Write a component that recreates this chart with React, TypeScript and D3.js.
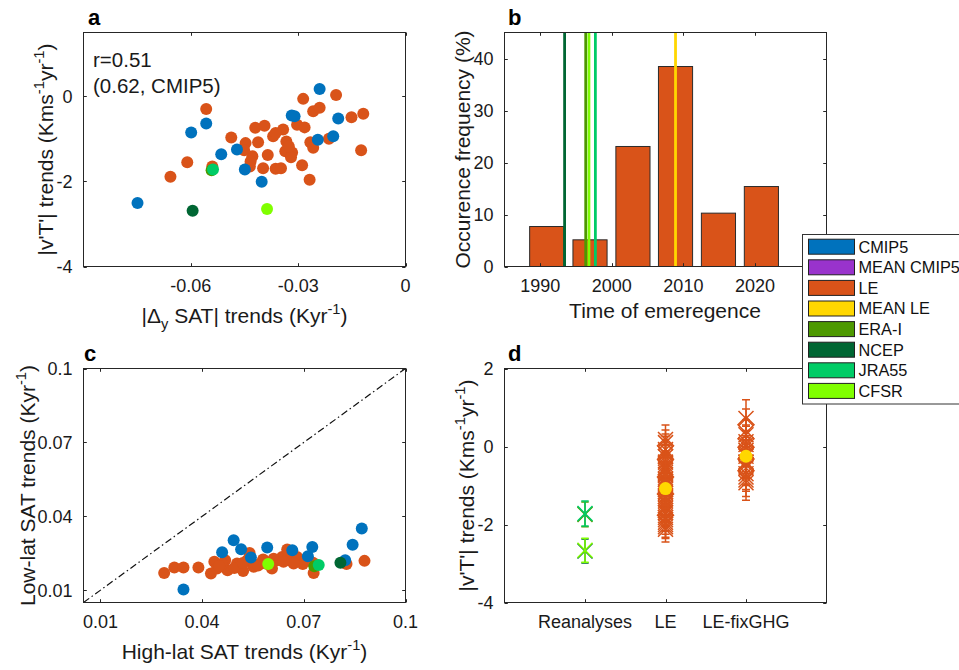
import React from 'react';
import * as d3 from 'd3';

const FONT = "'Liberation Sans', Arial, Helvetica, sans-serif";
const AXIS_COLOR = '#262626';
const TICK_FS = 18;
const LABEL_FS = 21;

// ---------- legend / series ----------
const SERIES_NAMES = ['CMIP5', 'MEAN CMIP5', 'LE', 'MEAN LE', 'ERA-I', 'NCEP', 'JRA55', 'CFSR'];
const SERIES_COLORS = ['#0072BD', '#9933CC', '#D95319', '#FFD700', '#4D9900', '#006633', '#00CC66', '#80FF00'];
const colorOf = (n: string) => SERIES_COLORS[SERIES_NAMES.indexOf(n)];

// ---------- panel a ----------
const aXTicks = [-0.06, -0.03, 0];
const aXTickLabels = ['-0.06', '-0.03', '0'];
const aYTicks = [-4, -2, 0];
const aYTickLabels = ['-4', '-2', '0'];
const aCMIP5: [number, number][] = [
  [-0.024, 0.17], [-0.031, -0.47], [-0.0318, -0.45], [-0.0188, -0.52], [-0.0599, -0.85],
  [-0.0557, -0.64], [-0.0245, -1.02], [-0.0202, -0.94], [-0.0515, -1.36], [-0.0471, -1.25],
  [-0.0449, -1.72], [-0.0402, -2.01], [-0.0749, -2.51],
];
const aLE: [number, number][] = [
  [-0.0557, -0.3], [-0.061, -1.55], [-0.0657, -1.89], [-0.054, -1.65], [-0.0286, -0.06],
  [-0.0194, 0.03], [-0.0258, -0.35], [-0.024, -0.27], [-0.0151, -0.49], [-0.0118, -0.41],
  [-0.0124, -1.27], [-0.0303, -0.67], [-0.0282, -0.73], [-0.042, -0.74], [-0.0394, -0.69],
  [-0.0487, -0.97], [-0.0447, -1.1], [-0.0412, -1.08], [-0.037, -0.94], [-0.0342, -0.78],
  [-0.0363, -0.86], [-0.0333, -1.06], [-0.0336, -1.29], [-0.0317, -1.32], [-0.032, -1.43],
  [-0.0385, -1.38], [-0.0428, -1.41], [-0.0435, -1.65], [-0.0398, -1.69], [-0.0363, -1.7],
  [-0.0348, -1.69], [-0.0289, -1.62], [-0.0268, -1.96], [-0.0266, -1.08], [-0.0258, -1.21],
  [-0.0214, -1.0], [-0.0451, -1.27], [-0.0433, -1.53], [-0.0326, -1.18],
];
const aReanNames = ['ERA-I', 'NCEP', 'JRA55', 'CFSR'];
const aReanX = [-0.0542, -0.0595, -0.0538, -0.0387];
const aReanY = [-1.74, -2.69, -1.72, -2.65];

// ---------- panel b ----------
const bXTicks = [1990, 2000, 2010, 2020];
const bXTickLabels = ['1990', '2000', '2010', '2020'];
const bYTicks = [0, 10, 20, 30, 40];
const bYTickLabels = ['0', '10', '20', '30', '40'];
const toeBinCenters = [1990.9, 1996.95, 2002.95, 2008.9, 2014.9, 2020.9];
const toeFrequency = [7.69, 5.13, 23.08, 38.46, 10.26, 15.38];
const toeBarWidth = 4.77;
const toeLineNames = ['NCEP', 'ERA-I', 'CFSR', 'JRA55', 'MEAN LE'];
const toeLineYears = [1993.4, 1996.35, 1996.8, 1997.7, 2008.9];

// ---------- panel c ----------
const cTicks = [0.01, 0.04, 0.07, 0.1];
const cTickLabels = ['0.01', '0.04', '0.07', '0.1'];
const cCMIP5: [number, number][] = [
  [0.0345, 0.0103], [0.0459, 0.0254], [0.0493, 0.0303], [0.0515, 0.0266], [0.0544, 0.0233],
  [0.0592, 0.0273], [0.0666, 0.0262], [0.0712, 0.0238], [0.0725, 0.0275], [0.0822, 0.0222],
  [0.0844, 0.0284], [0.0871, 0.035],
];
const cLE: [number, number][] = [
  [0.0288, 0.017], [0.0318, 0.0192], [0.0345, 0.0192], [0.0389, 0.0192], [0.0426, 0.0168],
  [0.0436, 0.0215], [0.0444, 0.0188], [0.0468, 0.0222], [0.0475, 0.0181], [0.0521, 0.0178],
  [0.0533, 0.0222], [0.054, 0.0251], [0.0552, 0.0195], [0.0572, 0.0208], [0.0606, 0.0188],
  [0.0621, 0.0222], [0.0636, 0.0235], [0.0651, 0.0265], [0.0658, 0.0222], [0.068, 0.0235],
  [0.0697, 0.0206], [0.0729, 0.017], [0.0727, 0.0211], [0.0826, 0.0206], [0.0879, 0.0219],
  [0.0503, 0.0208], [0.0592, 0.0206], [0.0459, 0.0206], [0.067, 0.0208], [0.0611, 0.0228],
  [0.0542, 0.0215], [0.0495, 0.019], [0.0565, 0.02], [0.064, 0.0215], [0.045, 0.0198],
  [0.06, 0.021], [0.0705, 0.0225], [0.052, 0.021], [0.058, 0.0225],
];
const cReanNames = ['ERA-I', 'NCEP', 'JRA55', 'CFSR'];
const cReanX = [0.0731, 0.0808, 0.0744, 0.0595];
const cReanY = [0.0197, 0.0211, 0.0202, 0.0206];

// ---------- panel d ----------
const dXTicks = [1, 2, 3];
const dXTickLabels = ['Reanalyses', 'LE', 'LE-fixGHG'];
const dYTicks = [-4, -2, 0, 2];
const dYTickLabels = ['-4', '-2', '0', '2'];
const dReanNames = ['ERA-I', 'JRA55', 'NCEP', 'CFSR'];
const dReanY = [-1.74, -1.72, -2.68, -2.66];
const dReanErr = [0.32, 0.32, 0.31, 0.31];
const dLE = [0.18, 0.1, 0.02, -0.08, -0.18, -0.26, -0.33, -0.4, -0.47, -0.53, -0.6, -0.66, -0.72,
  -0.78, -0.84, -0.9, -0.95, -1.0, -1.05, -1.1, -1.16, -1.22, -1.28, -1.34, -1.4, -1.46, -1.52,
  -1.58, -1.64, -1.7, -1.76, -1.82, -1.88, -1.94, -2.0, -2.06, -2.12, -0.55, -1.2];
const dLEErr = [0.37, 0.32, 0.3, 0.34, 0.28, 0.31, 0.36, 0.29, 0.33, 0.3, 0.35, 0.27, 0.32, 0.3,
  0.34, 0.29, 0.31, 0.33, 0.3, 0.28, 0.35, 0.3, 0.32, 0.29, 0.34, 0.31, 0.3, 0.33, 0.28, 0.32, 0.3,
  0.34, 0.29, 0.31, 0.33, 0.3, 0.33, 0.3, 0.32];
const dLEShape = ['x', 'x', 'd', 'x', 'x', 'x', 'd', 'x', 'x', 'x', 'x', 'x', 'x', 'd', 'x', 'x',
  'x', 'x', 'x', 'x', 'x', 'd', 'x', 'x', 'x', 'x', 'x', 'x', 'x', 'x', 'd', 'x', 'x', 'x', 'x',
  'x', 'x', 'x', 'x'];
const dFix = [0.72, 0.56, 0.3, 0.2, 0.12, 0.05, -0.02, -0.1, -0.17, -0.25, -0.32, -0.4, -0.47,
  -0.55, -0.62, -0.7, -0.78, -0.86, -0.93, -0.4];
const dFixErr = [0.48, 0.4, 0.38, 0.35, 0.4, 0.36, 0.42, 0.38, 0.35, 0.4, 0.37, 0.39, 0.36, 0.41,
  0.38, 0.4, 0.37, 0.42, 0.45, 0.38];
const dFixShape = ['x', 'd', 'x', 'd', 'x', 'x', 'd', 'x', 'x', 'x', 'd', 'x', 'x', 'x', 'd', 'x',
  'x', 'x', 'x', 'x'];
const dMeans = [-1.08, -0.25];

// ---------- layout ----------
type Rect = { x0: number; x1: number; y0: number; y1: number };
const PA: Rect = { x0: 83.5, x1: 405.5, y0: 32.5, y1: 266.5 };
const PB: Rect = { x0: 504.5, x1: 826.5, y0: 32.5, y1: 266.5 };
const PC: Rect = { x0: 83.5, x1: 405.5, y0: 368.5, y1: 602.5 };
const PD: Rect = { x0: 504.5, x1: 826.5, y0: 368.5, y1: 602.5 };

type Seg = { t: string; sup?: boolean; sub?: boolean };
function RichText({ segs, fs }: { segs: Seg[]; fs: number }) {
  const out: any[] = [];
  let shift = 0;
  segs.forEach((s, i) => {
    let target = 0;
    if (s.sup) target = -fs * 0.42;
    if (s.sub) target = fs * 0.3;
    const dy = target - shift;
    shift = target;
    out.push(
      <tspan key={i} dy={dy} fontSize={s.sup || s.sub ? fs * 0.7 : fs}>
        {s.t}
      </tspan>
    );
  });
  return <>{out}</>;
}

function Axes({ r, xs, ys, xTicks, xLabels, yTicks, yLabels }: any) {
  const tl = 3.3;
  return (
    <g>
      <rect x={r.x0} y={r.y0} width={r.x1 - r.x0} height={r.y1 - r.y0} fill="none" stroke={AXIS_COLOR} strokeWidth={1} />
      {xTicks.map((t: number, i: number) => {
        const x = Math.round(xs(t)) + 0.5;
        return (
          <g key={'x' + i}>
            <line x1={x} x2={x} y1={r.y1} y2={r.y1 - tl} stroke={AXIS_COLOR} />
            <line x1={x} x2={x} y1={r.y0} y2={r.y0 + tl} stroke={AXIS_COLOR} />
            <text x={xs(t)} y={r.y1 + 25} fontSize={TICK_FS} textAnchor="middle" fill="#1a1a1a">{xLabels[i]}</text>
          </g>
        );
      })}
      {yTicks.map((t: number, i: number) => {
        const y = Math.round(ys(t)) + 0.5;
        return (
          <g key={'y' + i}>
            <line x1={r.x0} x2={r.x0 + tl} y1={y} y2={y} stroke={AXIS_COLOR} />
            <line x1={r.x1} x2={r.x1 - tl} y1={y} y2={y} stroke={AXIS_COLOR} />
            <text x={r.x0 - 11} y={ys(t)} dy="0.36em" fontSize={TICK_FS} textAnchor="end" fill="#1a1a1a">{yLabels[i]}</text>
          </g>
        );
      })}
    </g>
  );
}

function xMark(x: number, y: number, s: number) {
  return `M${x - s},${y - s}L${x + s},${y + s}M${x - s},${y + s}L${x + s},${y - s}`;
}
function dMark(x: number, y: number, s: number) {
  return `M${x},${y - s}L${x + s},${y}L${x},${y + s}L${x - s},${y}Z`;
}
function errBar(x: number, lo: number, hi: number, c: number) {
  return `M${x},${lo}L${x},${hi}M${x - c},${lo}L${x + c},${lo}M${x - c},${hi}L${x + c},${hi}`;
}

export default function App() {
  const xA = d3.scaleLinear().domain([-0.09, 0]).range([PA.x0, PA.x1]);
  const yA = d3.scaleLinear().domain([-4, 1.5]).range([PA.y1, PA.y0]);
  const xB = d3.scaleLinear().domain([1985, 2030]).range([PB.x0, PB.x1]);
  const yB = d3.scaleLinear().domain([0, 45]).range([PB.y1, PB.y0]);
  const xC = d3.scaleLinear().domain([0.005, 0.1]).range([PC.x0, PC.x1]);
  const yC = d3.scaleLinear().domain([0.005, 0.1]).range([PC.y1, PC.y0]);
  const xD = d3.scaleLinear().domain([0, 4]).range([PD.x0, PD.x1]);
  const yD = d3.scaleLinear().domain([-4, 2]).range([PD.y1, PD.y0]);
  const R = 6;

  const vtSegs: Seg[] = [{ t: "|v'T'| trends (Kms" }, { t: '-1', sup: true }, { t: 'yr' }, { t: '-1', sup: true }, { t: ')' }];

  const legendX = 802.5, legendY = 234.5, rowH = 20.6;

  return (
    <svg width={959} height={670} style={{ position: 'absolute', left: 0, top: 0, background: '#fff' }} fontFamily={FONT}>
      <rect x={0} y={0} width={959} height={670} fill="#fff" />

      {/* ---------------- panel a ---------------- */}
      <g>
        {aLE.map((d, i) => <circle key={'ale' + i} cx={xA(d[0])} cy={yA(d[1])} r={R} fill={colorOf('LE')} />)}
        {aCMIP5.map((d, i) => <circle key={'acm' + i} cx={xA(d[0])} cy={yA(d[1])} r={R} fill={colorOf('CMIP5')} />)}
        {aReanNames.map((n, i) => <circle key={'are' + i} cx={xA(aReanX[i])} cy={yA(aReanY[i])} r={R} fill={colorOf(n)} />)}
        <Axes r={PA} xs={xA} ys={yA} xTicks={aXTicks} xLabels={aXTickLabels} yTicks={aYTicks} yLabels={aYTickLabels} />
        <text x={93} y={67} fontSize={20.5} fill="#1a1a1a">r=0.51</text>
        <text x={93} y={93} fontSize={20.5} fill="#1a1a1a">(0.62, CMIP5)</text>
        <text x={88} y={25} fontSize={22} fontWeight="bold">a</text>
        <text x={(PA.x0 + PA.x1) / 2} y={323} textAnchor="middle" fill="#1a1a1a">
          <RichText fs={LABEL_FS} segs={[{ t: '|Δ' }, { t: 'y', sub: true }, { t: ' SAT| trends (Kyr' }, { t: '-1', sup: true }, { t: ')' }]} />
        </text>
        <text transform={`translate(53,${(PA.y0 + PA.y1) / 2}) rotate(-90)`} textAnchor="middle" fill="#1a1a1a">
          <RichText fs={LABEL_FS} segs={vtSegs} />
        </text>
      </g>

      {/* ---------------- panel b ---------------- */}
      <g>
        {toeBinCenters.map((c, i) => (
          <rect key={'bar' + i} x={xB(c - toeBarWidth / 2)} y={yB(toeFrequency[i])} width={xB(c + toeBarWidth / 2) - xB(c - toeBarWidth / 2)}
            height={yB(0) - yB(toeFrequency[i])} fill={colorOf('LE')} stroke="#2b2b2b" strokeWidth={1} />
        ))}
        {toeLineNames.map((n, i) => (
          <line key={'tl' + i} x1={xB(toeLineYears[i])} x2={xB(toeLineYears[i])} y1={PB.y0} y2={PB.y1} stroke={colorOf(n)} strokeWidth={2.8} />
        ))}
        <Axes r={PB} xs={xB} ys={yB} xTicks={bXTicks} xLabels={bXTickLabels} yTicks={bYTicks} yLabels={bYTickLabels} />
        <text x={508} y={25} fontSize={22} fontWeight="bold">b</text>
        <text x={665} y={318} textAnchor="middle" fontSize={LABEL_FS} fill="#1a1a1a">Time of emeregence</text>
        <text transform={`translate(470,${(PB.y0 + PB.y1) / 2}) rotate(-90)`} textAnchor="middle" fontSize={LABEL_FS} fill="#1a1a1a">Occurence frequency (%)</text>
      </g>

      {/* ---------------- panel c ---------------- */}
      <g>
        <line x1={xC(0.005)} y1={yC(0.005)} x2={xC(0.1)} y2={yC(0.1)} stroke="#111" strokeWidth={1.2} strokeDasharray="7,3,1.5,3" />
        {cLE.map((d, i) => <circle key={'cle' + i} cx={xC(d[0])} cy={yC(d[1])} r={R} fill={colorOf('LE')} />)}
        {cCMIP5.map((d, i) => <circle key={'ccm' + i} cx={xC(d[0])} cy={yC(d[1])} r={R} fill={colorOf('CMIP5')} />)}
        {cReanNames.map((n, i) => <circle key={'cre' + i} cx={xC(cReanX[i])} cy={yC(cReanY[i])} r={R} fill={colorOf(n)} />)}
        <Axes r={PC} xs={xC} ys={yC} xTicks={cTicks} xLabels={cTickLabels} yTicks={cTicks} yLabels={cTickLabels} />
        <text x={84} y={361} fontSize={22} fontWeight="bold">c</text>
        <text x={(PC.x0 + PC.x1) / 2} y={659} textAnchor="middle" fill="#1a1a1a">
          <RichText fs={LABEL_FS} segs={[{ t: 'High-lat SAT trends (Kyr' }, { t: '-1', sup: true }, { t: ')' }]} />
        </text>
        <text transform={`translate(35,${(PC.y0 + PC.y1) / 2}) rotate(-90)`} textAnchor="middle" fill="#1a1a1a">
          <RichText fs={LABEL_FS} segs={[{ t: 'Low-lat SAT trends (Kyr' }, { t: '-1', sup: true }, { t: ')' }]} />
        </text>
      </g>

      {/* ---------------- panel d ---------------- */}
      <g>
        {dReanNames.map((n, i) => {
          const x = xD(1);
          return (
            <g key={'dre' + i} stroke={colorOf(n)} strokeWidth={1.5} fill="none">
              <path d={errBar(x, yD(dReanY[i] - dReanErr[i]), yD(dReanY[i] + dReanErr[i]), 3.7)} />
              <path d={xMark(x, yD(dReanY[i]), 7.5)} />
            </g>
          );
        })}
        {dLE.map((v, i) => {
          const x = xD(2);
          return (
            <g key={'dle' + i} stroke={colorOf('LE')} strokeWidth={1.5} fill="none">
              <path d={errBar(x, yD(v - dLEErr[i]), yD(v + dLEErr[i]), 4)} />
              <path d={dLEShape[i] === 'd' ? dMark(x, yD(v), 8) : xMark(x, yD(v), 7.5)} />
            </g>
          );
        })}
        {dFix.map((v, i) => {
          const x = xD(3);
          return (
            <g key={'dfx' + i} stroke={colorOf('LE')} strokeWidth={1.5} fill="none">
              <path d={errBar(x, yD(v - dFixErr[i]), yD(v + dFixErr[i]), 4)} />
              <path d={dFixShape[i] === 'd' ? dMark(x, yD(v), 8) : xMark(x, yD(v), 7.5)} />
            </g>
          );
        })}
        {dMeans.map((m, i) => <circle key={'dm' + i} cx={xD(i + 2)} cy={yD(m)} r={6.5} fill={colorOf('MEAN LE')} />)}
        <Axes r={PD} xs={xD} ys={yD} xTicks={dXTicks} xLabels={dXTickLabels} yTicks={dYTicks} yLabels={dYTickLabels} />
        <text x={508} y={361} fontSize={22} fontWeight="bold">d</text>
        <text transform={`translate(474,${(PD.y0 + PD.y1) / 2}) rotate(-90)`} textAnchor="middle" fill="#1a1a1a">
          <RichText fs={LABEL_FS} segs={vtSegs} />
        </text>
      </g>

      {/* ---------------- legend ---------------- */}
      <g>
        <rect x={legendX} y={legendY} width={200} height={169.5} fill="#fff" stroke="#333" strokeWidth={1} />
        {SERIES_NAMES.map((n, i) => {
          const cy = legendY + 12.2 + i * rowH;
          return (
            <g key={'lg' + i}>
              <rect x={808.5} y={cy - 7.5} width={46} height={15} fill={SERIES_COLORS[i]} stroke="#222" strokeWidth={1} />
              <text x={858.5} y={cy} dy="0.36em" fontSize={16.3} fill="#111">{n}</text>
            </g>
          );
        })}
      </g>
    </svg>
  );
}
